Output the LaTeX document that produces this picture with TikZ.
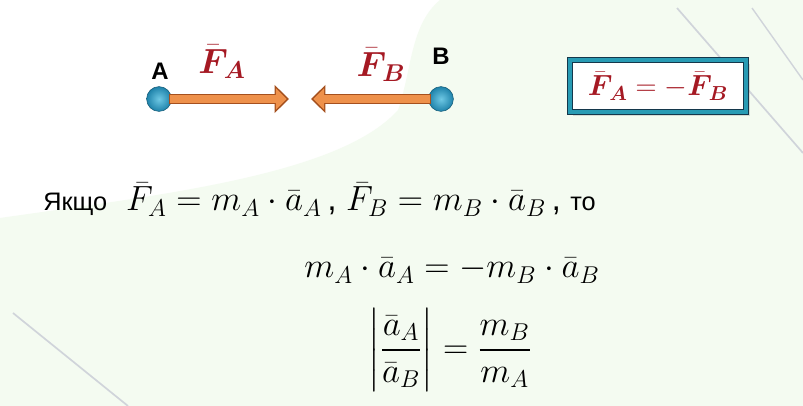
\documentclass[tikz,border=0pt]{standalone}
\usepackage{amsmath}
\usepackage{fontspec}
\setmainfont{Liberation Sans}
\usepackage{tikz}
\usetikzlibrary{arrows.meta, positioning, shadows}
\definecolor{myred}{RGB}{165,25,35}
\definecolor{myorange}{RGB}{238,145,75}
\definecolor{myorangedk}{RGB}{165,80,30}
\definecolor{myballin}{RGB}{110,200,228}
\definecolor{myballout}{RGB}{30,130,170}
\definecolor{myteal}{RGB}{40,155,180}
\definecolor{mydark}{RGB}{20,55,75}
\definecolor{mypale}{RGB}{244,251,241}
\definecolor{mystroke}{RGB}{208,212,218}
\newcommand{\ukrtxt}[1]{{\fontsize{18}{21}\selectfont #1}}
\tikzset{
  ball/.style={circle, minimum size=0.62cm, inner sep=0pt, shading=radial, inner color=myballin,
    outer color=myballout, draw=myballout!70!black, line width=0.4pt},
  force/.style={line width=0.27cm, draw=myorangedk, shorten <=-0.06cm, -{Triangle[length=0.36cm, width=0.68cm]}},
  forcein/.style={line width=0.18cm, draw=myorange, shorten <=-0.04cm, shorten >=0.06cm, -{Triangle[length=0.27cm, width=0.52cm]}},
  lbl/.style={font=\fontsize{17}{20}\selectfont\bfseries},
  fvec/.style={font=\fontsize{24}{28}\selectfont, text=myred, inner sep=0pt}
}

\begin{document}
\begin{tikzpicture}[x=0.025cm, y=-0.025cm,
  eqbox/.style={draw=mydark, double=myteal, double distance=0.1cm, line width=0.7pt, fill=white,
    minimum width=4.42cm, minimum height=1.3cm, drop shadow={opacity=0.25}, inner sep=0pt,
    font=\fontsize{22}{26}\selectfont, text=myred},
  eq/.style={font=\fontsize{25}{29}\selectfont, inner sep=0pt}
]
\useasboundingbox (0,0) rectangle (803,406);
%--- background ---
\fill[white] (0,0) rectangle (803,406);
\fill[mypale] (0,406) -- (0,218) .. controls (160,195) and (340,175) .. (398,110)
  .. controls (412,70) and (410,25) .. (440,0) -- (803,0) -- (803,406) -- cycle;
\draw[mystroke, line width=1.2pt] (677,8) -- (803,153);
\draw[mystroke, line width=1pt] (752,8) -- (803,80);
\draw[mystroke, line width=1.2pt] (13,313) -- (128,406);

%--- two bodies and forces ---
\node[ball] (A) at (159,99) {};
\node[ball] (B) at (441,99) {};
\coordinate (tipA) at (289,99);
\coordinate (tipB) at (311,99);
\draw[force]   (A.east) -- (tipA);
\draw[forcein] (A.east) -- (tipA);
\draw[force]   (B.west) -- (tipB);
\draw[forcein] (B.west) -- (tipB);
\node[lbl] (labA) at (160,71) {A};
\node[lbl] (labB) at (441,56) {B};
\node[fvec] (FA) at (222,62) {$\bar{\boldsymbol{F}}_{\!\boldsymbol{A}}$};
\node[fvec] (FB) at (381,65) {$\bar{\boldsymbol{F}}_{\!\boldsymbol{B}}$};

%--- third law box ---
\node[eqbox] (law) at (658,86) {$\bar{\boldsymbol{F}}_{\!\boldsymbol{A}} = -\bar{\boldsymbol{F}}_{\!\boldsymbol{B}}$};

%--- formulas ---
\node[eq, font=\fontsize{24}{28}\selectfont, anchor=base west] (cond) at (43,211)
  {\ukrtxt{Якщо}\ \ $\bar F_A = m_A\cdot\bar a_A$\,, $\bar F_B = m_B\cdot\bar a_B$\,, \ukrtxt{то}};
\node[eq, anchor=base] (mass) at (452,278) {$m_A\cdot\bar a_A = -m_B\cdot\bar a_B$};
\node[eq] (ratio) at (450,350) {$\left|\dfrac{\bar a_A}{\bar a_B}\right| = \dfrac{m_B}{m_A}$};
\end{tikzpicture}
\end{document}
